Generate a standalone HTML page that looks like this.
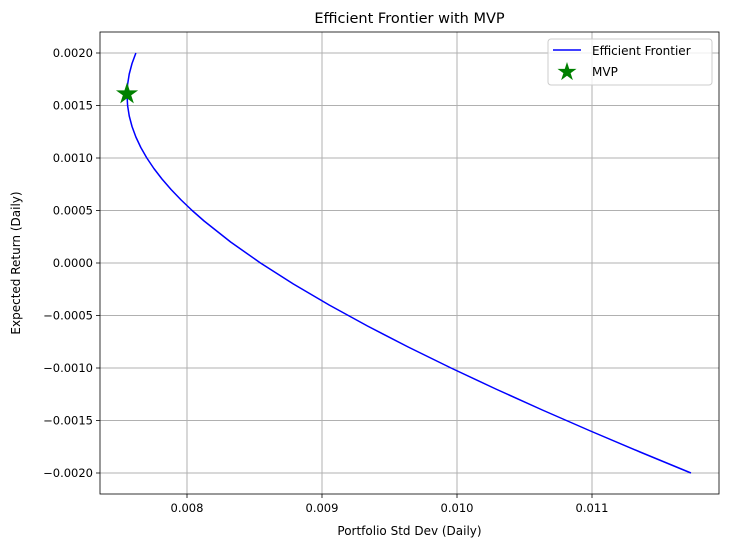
<!DOCTYPE html>
<html><head><meta charset="utf-8"><style>
body{margin:0;background:#fff;}
svg{display:block;font-family:"DejaVu Sans","Liberation Sans",sans-serif;}
</style></head><body>
<svg id="chart" width="729" height="547"></svg>
<script>
const returns = [0.0020,0.0019,0.0018,0.0017,0.0016,0.0015,0.0014,0.0013,0.0012,0.0011,0.0010,0.0009,0.0008,0.0007,0.0006,0.0005,0.0004,0.0002,0.0000,-0.0002,-0.0004,-0.0006,-0.0008,-0.0010,-0.0012,-0.0014,-0.0016,-0.0018,-0.0020];
const stdDevs = [0.0076214,0.0075928,0.0075722,0.0075599,0.0075558,0.0075599,0.0075722,0.0075928,0.0076214,0.0076580,0.0077025,0.0077548,0.0078147,0.0078820,0.0079566,0.0080382,0.0081266,0.0083232,0.0085443,0.0087882,0.0090531,0.0093370,0.0096385,0.0099557,0.0102875,0.0106322,0.0109887,0.0113560,0.0117330];
const mvpStd = [0.0075558];
const mvpRet = [0.00161];
const xTicks = [0.008,0.009,0.010,0.011];
const xTickLabels = ["0.008","0.009","0.010","0.011"];
const yTicks = [0.0020,0.0015,0.0010,0.0005,0.0000,-0.0005,-0.0010,-0.0015,-0.0020];
const yTickLabels = ["0.0020","0.0015","0.0010","0.0005","0.0000","\u22120.0005","\u22120.0010","\u22120.0015","\u22120.0020"];

const L=100,R=719,T=32,B=494;
const xMin=0.0073556,xMax=0.0119407,yMin=-0.0022,yMax=0.0022;
const sx=v=>L+(v-xMin)/(xMax-xMin)*(R-L);
const sy=v=>B-(v-yMin)/(yMax-yMin)*(B-T);
const svg=document.getElementById('chart');
const NS='http://www.w3.org/2000/svg';
function mk(tag,attrs,parent){const e=document.createElementNS(NS,tag);for(const k in attrs)e.setAttribute(k,attrs[k]);(parent||svg).appendChild(e);return e;}

xTicks.forEach((t,i)=>{
  const g=mk('line',{x1:sx(t),x2:sx(t),y1:T,y2:B,stroke:'#b0b0b0','stroke-width':1});
  
  
  mk('line',{x1:sx(t),x2:sx(t),y1:B,y2:B+4,stroke:'#000','stroke-width':0.8});
  const tx=mk('text',{x:sx(t),y:B+18,'text-anchor':'middle','font-size':11.5,fill:'#000'});
  tx.textContent=xTickLabels[i];
  
  
});
yTicks.forEach((t,i)=>{
  const g=mk('line',{x1:L,x2:R,y1:sy(t),y2:sy(t),stroke:'#b0b0b0','stroke-width':1});
  
  
  mk('line',{x1:L-4,x2:L,y1:sy(t),y2:sy(t),stroke:'#000','stroke-width':0.8});
  const tx=mk('text',{x:L-7,y:sy(t)+4,'text-anchor':'end','font-size':11.5,fill:'#000'});
  tx.textContent=yTickLabels[i];
  
  
});

const pts=returns.map((r,i)=>sx(stdDevs[i]).toFixed(2)+','+sy(r).toFixed(2)).join(' ');
const line=mk('polyline',{points:pts,fill:'none',stroke:'#0000ff','stroke-width':1.5,'stroke-linejoin':'round'});



function star(cx,cy,r){let p=[];for(let k=0;k<10;k++){const a=-Math.PI/2+k*Math.PI/5;const rr=k%2?r*0.38:r;p.push((cx+rr*Math.cos(a)).toFixed(2)+','+(cy+rr*Math.sin(a)).toFixed(2));}return p.join(' ');}
mvpStd.forEach((s,i)=>{
  const st=mk('polygon',{points:star(sx(s),sy(mvpRet[i]),10),fill:'#008000',stroke:'#008000','stroke-width':1});
  
  
});

const fr=mk('rect',{x:L,y:T,width:R-L,height:B-T,fill:'none',stroke:'#000','stroke-width':0.8});



const title=mk('text',{x:(L+R)/2,y:23,'text-anchor':'middle','font-size':14.5,fill:'#000'});
title.textContent='Efficient Frontier with MVP';


const xl=mk('text',{x:(L+R)/2,y:535,'text-anchor':'middle','font-size':12,fill:'#000'});
xl.textContent='Portfolio Std Dev (Daily)';


const yl=mk('text',{x:20,y:(T+B)/2,'text-anchor':'middle','font-size':12,fill:'#000',transform:'rotate(-90 20 '+(T+B)/2+')'});
yl.textContent='Expected Return (Daily)';



const lg=mk('g',{});


mk('rect',{x:548,y:39,width:164,height:46,rx:3,fill:'#fff','fill-opacity':0.8,stroke:'#ccc','stroke-width':1},lg);
mk('line',{x1:553,x2:581,y1:50,y2:50,stroke:'#0000ff','stroke-width':1.5},lg);
const t1=mk('text',{x:592,y:55,'font-size':12,fill:'#000'},lg);
t1.textContent='Efficient Frontier';


mk('polygon',{points:star(567,72,10),fill:'#008000'},lg);
const t2=mk('text',{x:592,y:76,'font-size':12,fill:'#000'},lg);
t2.textContent='MVP';


</script>
</body></html>
